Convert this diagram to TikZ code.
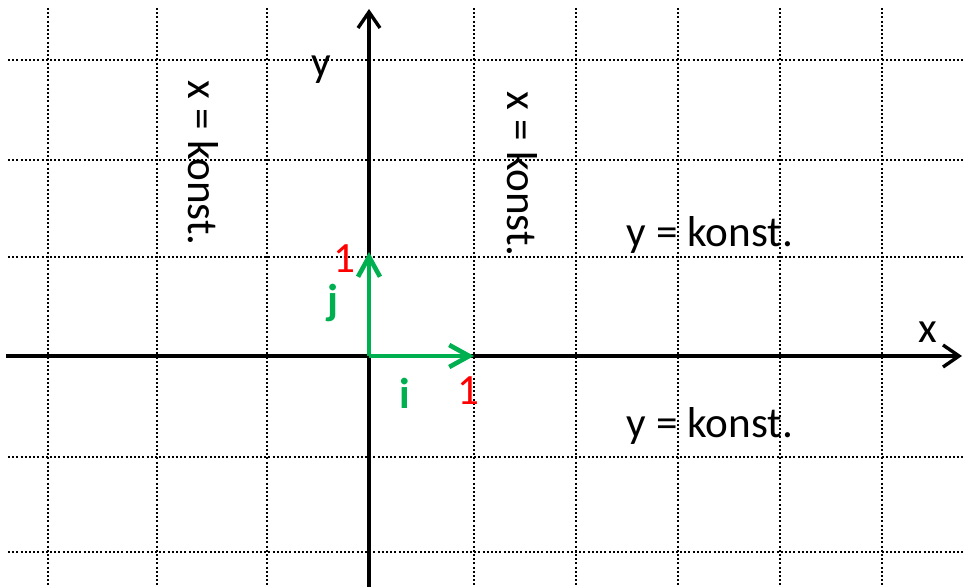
\documentclass[tikz,border=0pt]{standalone}
\usepackage{fontspec}
\setmainfont{Carlito}
\usepackage{xcolor}
\usetikzlibrary{arrows.meta,positioning}

\definecolor{vecgreen}{HTML}{00B050}

\begin{document}
\begin{tikzpicture}[
    x=0.5pt, y=-0.5pt,
    gridline/.style={line width=1.25pt, dash pattern=on 1pt off 1.1pt, black},
    axis/.style={line width=1.7pt, -{Straight Barb[length=8pt, width=11pt]}},
    unitvec/.style={line width=2.3pt, vecgreen, -{Straight Barb[length=10pt, width=11pt]}},
    lbl/.style={font=\fontsize{21.6}{26}\selectfont, inner sep=0pt},
    konst/.style={lbl},
    one/.style={lbl, text=red},
    vname/.style={lbl, text=vecgreen, font=\fontsize{21.6}{26}\selectfont\bfseries}
]
\useasboundingbox (0,0) rectangle (963,587);

% dotted grid
\foreach \gx in {48,157,267,474,576,678,780,882}
    \draw[gridline] (\gx,8) -- (\gx,587);
\foreach \gy in {60,160,257,457,552}
    \draw[gridline] (8,\gy) -- (963,\gy);

% axes
\coordinate (O) at (369,356);
\coordinate (xstart) at (6,356);
\coordinate (xend) at (962,356);
\coordinate (ystart) at (369,587);
\coordinate (yend) at (369,9);
\draw[axis] (xstart) -- (xend);
\draw[axis] (ystart) -- (yend);
\node[lbl] (xlbl) at (928,332) {x};
\node[lbl] (ylbl) at (321,70) {y};

% unit vectors
\coordinate (ex) at (474,356);
\coordinate (ey) at (369,252);
\draw[unitvec] (O) -- (ex);
\draw[unitvec] (O) -- (ey);
\node[vname] (ilbl) at (405,393) {i};
\node[vname] (jlbl) at (333,303) {j};
\node[one] (onex) at (468,391) {1};
\node[one] (oney) at (344,259) {1};

% coordinate lines
\node[konst, rotate=-90] (xk1) at (203,163) {x = konst.};
\node[konst, rotate=-90] (xk2) at (522,174) {x = konst.};
\node[konst] (yk1) at (710,235) {y = konst.};
\node[konst] (yk2) at (710,426) {y = konst.};

\end{tikzpicture}
\end{document}
